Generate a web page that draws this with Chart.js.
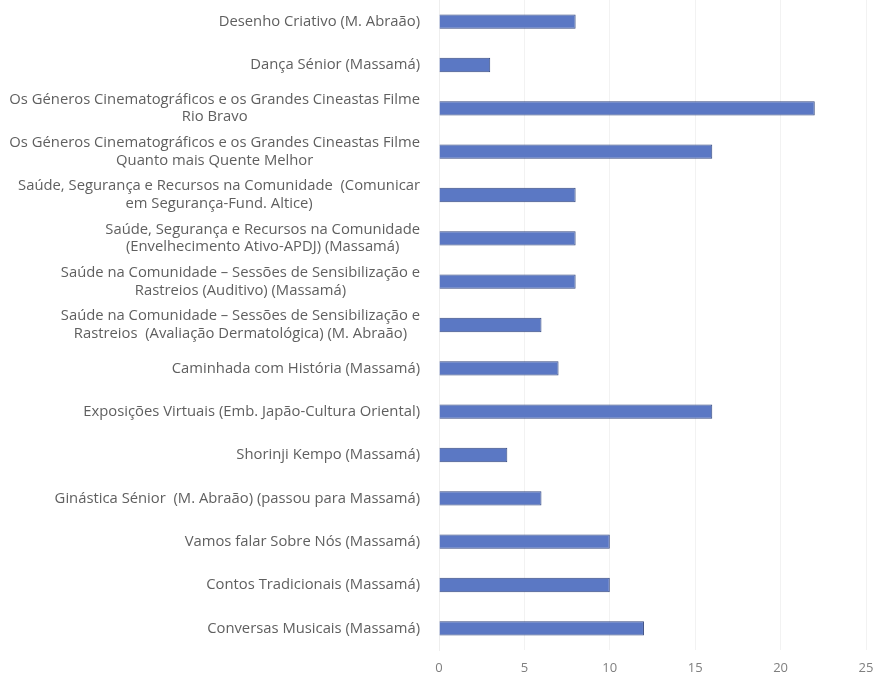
<!DOCTYPE html>
<html>
<head>
<meta charset="utf-8">
<script src="https://cdn.jsdelivr.net/npm/chart.js@4/dist/chart.umd.min.js"></script>
<style>
html,body{margin:0;padding:0;background:#fff;}
#wrap{width:891px;height:675px;position:relative;}
</style>
</head>
<body>
<div id="wrap"><canvas id="c" width="891" height="675"></canvas></div>
<script>
const categories = [
  ["Desenho Criativo (M. Abraão)"],
  ["Dança Sénior (Massamá)"],
  ["Os Géneros Cinematográficos e os Grandes Cineastas Filme", "Rio Bravo"],
  ["Os Géneros Cinematográficos e os Grandes Cineastas Filme", "Quanto mais Quente Melhor"],
  ["Saúde, Segurança e Recursos na Comunidade  (Comunicar", "em Segurança-Fund. Altice)"],
  ["Saúde, Segurança e Recursos na Comunidade", "(Envelhecimento Ativo-APDJ) (Massamá)"],
  ["Saúde na Comunidade – Sessões de Sensibilização e", "Rastreios (Auditivo) (Massamá)"],
  ["Saúde na Comunidade – Sessões de Sensibilização e", "Rastreios  (Avaliação Dermatológica) (M. Abraão)"],
  ["Caminhada com História (Massamá)"],
  ["Exposições Virtuais (Emb. Japão-Cultura Oriental)"],
  ["Shorinji Kempo (Massamá)"],
  ["Ginástica Sénior  (M. Abraão) (passou para Massamá)"],
  ["Vamos falar Sobre Nós (Massamá)"],
  ["Contos Tradicionais (Massamá)"],
  ["Conversas Musicais (Massamá)"]
];
const values = [8, 3, 22, 16, 8, 8, 8, 6, 7, 16, 4, 6, 10, 10, 12];
const xTicks = [0, 5, 10, 15, 20, 25];

const labelFont = '14.8px "Open Sans"';
const labelLineH = 17.8;
const labelGap = 19;

const centeredLabels = {
  id: 'centeredLabels',
  afterDraw(chart) {
    const ctx = chart.ctx;
    const y = chart.scales.y;
    ctx.save();
    ctx.font = labelFont;
    ctx.fillStyle = '#5f5f5f';
    ctx.textAlign = 'center';
    ctx.textBaseline = 'middle';
    const right = y.right - labelGap;
    chart.data.labels.forEach((lines, i) => {
      const cy = y.getPixelForValue(i);
      const maxW = Math.max(...lines.map(l => ctx.measureText(l).width));
      const cx = right - maxW / 2;
      const top = cy - (lines.length - 1) * labelLineH / 2;
      lines.forEach((l, j) => ctx.fillText(l, cx, top + j * labelLineH));
    });
    ctx.restore();
  }
};

new Chart(document.getElementById('c'), {
  type: 'bar',
  data: {
    labels: categories,
    datasets: [{
      data: values,
      backgroundColor: '#5b78c4',
      borderColor: '#34487e',
      borderWidth: 1,
      barPercentage: 0.33,
      categoryPercentage: 1.0
    }]
  },
  options: {
    indexAxis: 'y',
    responsive: false,
    animation: false,
    layout: { padding: { top: 0, right: 25, bottom: 0, left: 0 } },
    plugins: { legend: { display: false }, tooltip: { enabled: false } },
    scales: {
      x: {
        min: xTicks[0], max: xTicks[xTicks.length - 1],
        afterBuildTicks: s => { s.ticks = xTicks.map(v => ({ value: v })); },
        grid: { color: '#f2f2f2', drawTicks: false },
        border: { display: false },
        ticks: { color: '#7f7f7f', font: { family: 'Open Sans', size: 13 }, padding: 10 },
        afterFit: s => { s.height = 25; s.paddingTop = 0; s.paddingBottom = 0; }
      },
      y: {
        grid: { display: false, drawTicks: false },
        border: { display: true, color: '#eeeeee' },
        ticks: { display: false },
        afterFit: s => { s.width = 439; s.paddingTop = 0; s.paddingBottom = 0; }
      }
    }
  },
  plugins: [centeredLabels]
});
</script>
</body>
</html>
